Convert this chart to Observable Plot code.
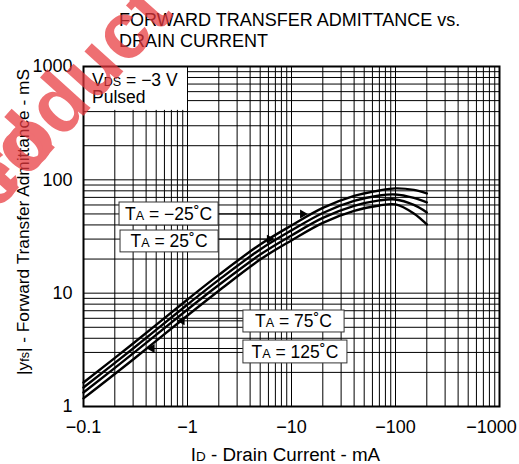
<!DOCTYPE html>
<html><head><meta charset="utf-8">
<script src="https://cdn.jsdelivr.net/npm/d3@7"></script>
<script src="https://cdn.jsdelivr.net/npm/@observablehq/plot@0.6"></script>
<style>body{margin:0;background:#fff} svg{display:block}</style>
</head><body><div id="chart"></div>
<script>
// Drain current magnitude (mA), x axis shown as negative values
const current = [0.1, 0.3, 1, 2, 5, 10, 20, 40, 70, 100, 150, 200];
// |yfs| (mS) per ambient temperature
const yfsM25 = [1.63, 3.60, 8.80, 14.5, 26.9, 39.6, 56.5, 72.1, 80.6, 84.0, 81.5, 75.9];
const yfs25  = [1.47, 3.25, 7.95, 13.1, 24.3, 35.8, 51.0, 65.1, 72.8, 74.3, 69.2, 63.2];
const yfs75  = [1.33, 2.94, 7.18, 11.8, 21.9, 32.3, 46.1, 58.8, 65.8, 67.1, 60.0, 51.6];
const yfs125 = [1.18, 2.60, 6.35, 10.5, 19.8, 29.2, 41.7, 53.2, 59.4, 60.7, 50.5, 40.4];
const temps = ["−25˚C", "25˚C", "75˚C", "125˚C"];

const xTicks = [0.1, 1, 10, 100, 1000];
const xTickLabels = ["−0.1", "−1", "−10", "−100", "−1000"];
const yTicks = [1, 10, 100, 1000];
const yTickLabels = ["1", "10", "100", "1000"];

const seriesVals = [yfsM25, yfs25, yfs75, yfs125];
const rows = seriesVals.flatMap((vals, s) => current.map((c, i) => ({temp: temps[s], id: c, yfs: vals[i]})));

// annotation boxes (data coordinates)
const boxes = [
  {x1: 0.222, x2: 1.99, y1: 39.6, y2: 63.1, label: temps[0]},
  {x1: 0.227, x2: 1.99, y1: 22.9, y2: 35.7, label: temps[1]},
  {x1: 3.45, x2: 32.4, y1: 4.50, y2: 7.03, label: temps[2]},
  {x1: 3.45, x2: 34.5, y1: 2.40, y2: 3.82, label: temps[3]}
];
const leaders = [
  {x1: 1.99, x2: 12.8, y: 50, rot: 90},
  {x1: 1.99, x2: 6.14, y: 30, rot: 90},
  {x1: 3.45, x2: 0.885, y: 5.7, rot: -90},
  {x1: 3.45, x2: 0.456, y: 3.25, rot: -90}
];
const condBox = [{x1: 0.1, x2: 1, y1: 410, y2: 1000}];

const xGrid = d3.scaleLog().domain([0.1, 1000]).ticks();
const yGrid = d3.scaleLog().domain([1, 1000]).ticks();

const FONT = "'Liberation Sans', Arial, Helvetica, sans-serif";

const plot = Plot.plot({
  width: 519, height: 464,
  marginLeft: 83, marginRight: 20, marginTop: 66, marginBottom: 58,
  style: {fontFamily: FONT, fontSize: "18px", background: "#fff", color: "#000"},
  x: {type: "log", domain: [0.1, 1000], ticks: xTicks, tickFormat: d => xTickLabels[xTicks.indexOf(d)], tickSize: 0, tickPadding: 14, label: null},
  y: {type: "log", domain: [1, 1000], ticks: yTicks, tickFormat: d => yTickLabels[yTicks.indexOf(d)], tickSize: 0, tickPadding: 11, label: null},
  marks: [
    Plot.ruleX(xGrid, {stroke: "#000", strokeWidth: 1}),
    Plot.ruleY(yGrid, {stroke: "#000", strokeWidth: 1}),
    Plot.rect(condBox, {x1: "x1", x2: "x2", y1: "y1", y2: "y2", fill: "#fff"}),
    Plot.line(rows, {x: "id", y: "yfs", z: "temp", stroke: "#000", strokeWidth: 2.4, curve: "catmull-rom"}),
    Plot.link(leaders, {x1: "x1", x2: "x2", y1: "y", y2: "y", stroke: "#000", strokeWidth: 1}),
    Plot.dot(leaders, {x: "x2", y: "y", symbol: "triangle", r: 3.3, fill: "#000", stroke: null, rotate: "rot"}),
    Plot.rect(boxes, {x1: "x1", x2: "x2", y1: "y1", y2: "y2", fill: "#fff", stroke: "#333", strokeWidth: 1}),
    Plot.frame({stroke: "#000", strokeWidth: 2})
  ]
});
document.getElementById("chart").appendChild(plot);

const svg = d3.select(plot);
const xs = plot.scale("x"), ys = plot.scale("y");

// last x tick label shifted to stay inside the picture
const xl = svg.selectAll('g[aria-label="x-axis tick label"] text').nodes();
if (xl.length) d3.select(xl[xl.length - 1]).attr("dx", -8);

function richText(g, x, y, parts, size, anchor) {
  const t = g.append("text").attr("x", x).attr("y", y).attr("text-anchor", anchor || "start")
    .style("font-family", FONT).style("font-size", size + "px").attr("fill", "#000");
  parts.forEach(([s, small]) => {
    const ts = t.append("tspan").text(s);
    if (small) ts.style("font-size", (size * 0.72) + "px");
  });
  return t;
}

const ann = svg.append("g");
// condition text
richText(ann, xs.apply(0.1) + 9, ys.apply(1000) + 20, [["V"], ["DS", true], [" = −3 V"]], 17.5);
richText(ann, xs.apply(0.1) + 9, ys.apply(1000) + 37, [["Pulsed"]], 17.5);
// temperature labels
boxes.forEach(b => {
  const cx = (xs.apply(b.x1) + xs.apply(b.x2)) / 2;
  const cy = (ys.apply(b.y1) + ys.apply(b.y2)) / 2;
  richText(ann, cx, cy + 6.3, [["T"], ["A", true], [" = " + b.label]], 17.5, "middle");
});

// title
richText(ann, 119, 26, [["FORWARD TRANSFER ADMITTANCE vs."]], 18);
richText(ann, 119, 47, [["DRAIN CURRENT"]], 18);
// axis titles
richText(ann, 285.5, 461, [["I"], ["D", true], [" - Drain Current - mA"]], 18.8, "middle");
const yl = ann.append("g").attr("transform", "translate(28.5,222) rotate(-90)");
richText(yl, 0, 0, [["|y"], ["fs", true], ["| - Forward Transfer Admittance - mS"]], 17.3, "middle");

// watermark
const wm = svg.append("g").attr("transform", "translate(66,135.2) rotate(-48)")
  .attr("fill", "#e8383d").attr("opacity", 0.72)
  .style("font-family", FONT).style("font-weight", "bold").style("font-size", "80px");
wm.append("text").attr("x", -11.1).attr("text-anchor", "end").text("Discontinued");
wm.append("text").attr("x", 11.1).text("Product");
</script>
</body></html>
